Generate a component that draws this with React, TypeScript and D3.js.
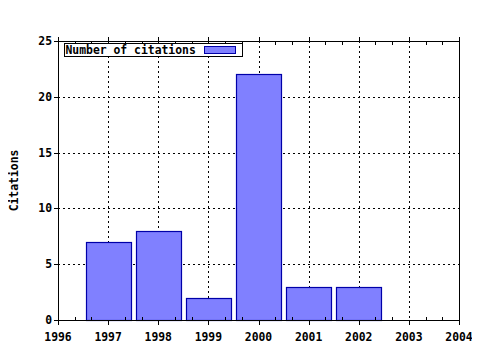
import React, { useEffect, useRef } from "react";
import * as d3 from "d3";

const years = [1997, 1998, 1999, 2000, 2001, 2002];
const citations = [7, 8, 2, 22, 3, 3];
const xTicks = [1996, 1997, 1998, 1999, 2000, 2001, 2002, 2003, 2004];
const yTicks = [0, 5, 10, 15, 20, 25];
const seriesName = "Number of citations";
const yLabel = "Citations";

const W = 480, H = 350;
const L = 58, R = 459, T = 41, B = 320;
const FONT = "'DejaVu Sans Mono', monospace";
const FS = 11.4;

export default function App() {
  const ref = useRef<SVGSVGElement>(null);
  useEffect(() => {
    const svg = d3.select(ref.current);
    svg.selectAll("*").remove();
    const x = d3.scaleLinear().domain([1996, 2004]).range([L, R]);
    const y = d3.scaleLinear().domain([0, 25]).range([B, T]);

    svg.append("rect").attr("width", W).attr("height", H).attr("fill", "#fff");

    // grid
    const g = svg.append("g").attr("stroke", "#000").attr("stroke-width", 1)
      .attr("stroke-dasharray", "2,3").attr("shape-rendering", "crispEdges");
    xTicks.slice(1, -1).forEach(v => {
      g.append("line").attr("x1", Math.round(x(v)) + 0.5).attr("x2", Math.round(x(v)) + 0.5)
        .attr("y1", T).attr("y2", B);
    });
    yTicks.slice(1, -1).forEach(v => {
      g.append("line").attr("y1", Math.round(y(v)) + 0.5).attr("y2", Math.round(y(v)) + 0.5)
        .attr("x1", L).attr("x2", R);
    });

    // bars
    const bw = x(1996.9) - x(1996);
    svg.append("g").selectAll("rect").data(years).join("rect")
      .attr("x", (d) => Math.round(x(d) - bw / 2) + 0.5)
      .attr("width", Math.round(bw))
      .attr("y", (d, i) => Math.round(y(citations[i])) + 0.5)
      .attr("height", (d, i) => Math.round(y(0)) - Math.round(y(citations[i])))
      .attr("fill", "#8080ff").attr("stroke", "#0000a8").attr("stroke-width", 1.2);

    // axes frame
    const ax = svg.append("g").attr("stroke", "#000").attr("shape-rendering", "crispEdges");
    ax.append("line").attr("x1", L).attr("x2", R + 0.5).attr("y1", B + 0.5).attr("y2", B + 0.5);
    ax.append("line").attr("x1", L).attr("x2", R + 0.5).attr("y1", T + 0.5).attr("y2", T + 0.5);
    ax.append("line").attr("x1", L + 0.5).attr("x2", L + 0.5).attr("y1", T).attr("y2", B + 0.5);
    ax.append("line").attr("x1", R + 0.5).attr("x2", R + 0.5).attr("y1", T).attr("y2", B + 0.5);

    // x ticks
    xTicks.forEach(v => {
      const px = Math.round(x(v)) + 0.5;
      ax.append("line").attr("x1", px).attr("x2", px).attr("y1", B).attr("y2", B + 5);
      ax.append("line").attr("x1", px).attr("x2", px).attr("y1", T - 4).attr("y2", T + 1);
    });
    const minor = d3.range(1996, 2004, 1 / 3).filter(v => Math.abs(v - Math.round(v)) > 0.01);
    minor.forEach(v => {
      const px = Math.round(x(v)) + 0.5;
      ax.append("line").attr("x1", px).attr("x2", px).attr("y1", B - 3).attr("y2", B);
      ax.append("line").attr("x1", px).attr("x2", px).attr("y1", T + 1).attr("y2", T + 4);
    });
    // y ticks
    yTicks.forEach(v => {
      const py = Math.round(y(v)) + 0.5;
      ax.append("line").attr("x1", L - 4).attr("x2", L).attr("y1", py).attr("y2", py);
    });

    const txt = svg.append("g").attr("font-family", FONT).attr("font-weight", "bold")
      .attr("font-size", FS).attr("fill", "#000");
    xTicks.forEach(v => {
      txt.append("text").attr("x", x(v)).attr("y", B + 21).attr("text-anchor", "middle").text(String(v));
    });
    yTicks.forEach(v => {
      txt.append("text").attr("x", L - 6).attr("y", y(v) + 4).attr("text-anchor", "end").text(String(v));
    });
    txt.append("text").attr("transform", `translate(18,${(T + B) / 2}) rotate(-90)`)
      .attr("text-anchor", "middle").text(yLabel);

    // legend
    const lg = svg.append("g");
    lg.append("rect").attr("x", 64.5).attr("y", 43.5).attr("width", 178).attr("height", 13)
      .attr("fill", "#fff").attr("stroke", "#000");
    lg.append("text").attr("x", 65.5).attr("y", 54).attr("font-family", FONT).attr("font-weight", "bold")
      .attr("font-size", FS).text(seriesName);
    lg.append("rect").attr("x", 204.5).attr("y", 46.5).attr("width", 31).attr("height", 7)
      .attr("fill", "#8080ff").attr("stroke", "#0000a8");
  }, []);
  return <svg ref={ref} width={W} height={H} style={{ display: "block", margin: -8 }} />;
}
